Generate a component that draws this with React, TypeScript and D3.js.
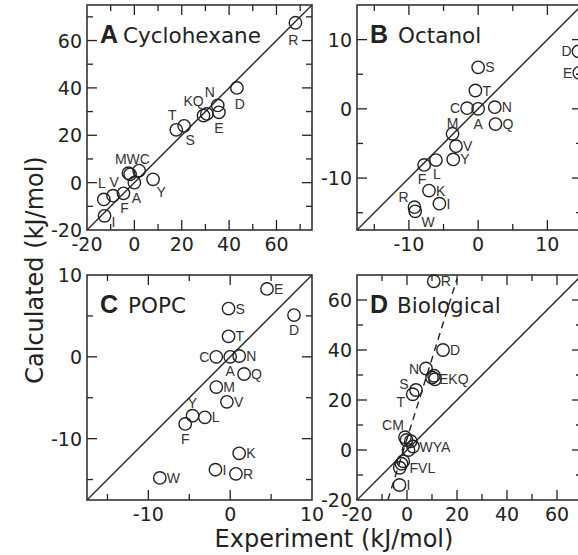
import * as d3 from 'd3'

// panel A / D share the calculated (apolar) values
const aaA = ['R', 'D', 'N', 'E', 'K', 'Q', 'T', 'S', 'C', 'M', 'W', 'A', 'Y', 'L', 'V', 'F', 'I']
const calcApolar = [67.5, 40, 32.6, 29.7, 28.3, 29, 22.3, 24, 5.1, 4, 3.5, 0, 1.4, -7.1, -5.5, -4.5, -14]
const expCyclohexane = [68, 43.3, 35.2, 35.7, 29.2, 30.6, 17.7, 21, 2, -2.5, -1.8, 0, 7.9, -12.9, -9, -4.6, -12.6]
const expBiological = [10.7, 14.4, 7.6, 10.8, 11.2, 10.0, 2.3, 3.6, -0.8, -0.2, 1.5, 0.6, 2.4, -2.9, -2.2, -1.5, -3.0]

const aaB = ['S', 'T', 'C', 'A', 'N', 'Q', 'M', 'V', 'Y', 'L', 'F', 'K', 'I', 'R', 'W', 'D', 'E']
const expOctanol = [0, -0.4, -1.6, 0, 2.4, 2.5, -3.7, -3.2, -3.6, -6.1, -7.8, -7.1, -5.6, -9.2, -9.1, 14.5, 14.6]
const calcOctanol = [6.0, 2.65, 0.1, 0, 0.24, -2.2, -3.6, -5.4, -7.3, -7.4, -8.1, -11.8, -13.7, -14.2, -14.8, 8.3, 5.2]

const aaC = ['E', 'S', 'D', 'T', 'C', 'A', 'N', 'Q', 'M', 'V', 'Y', 'L', 'F', 'K', 'I', 'R', 'W']
const expPopc = [4.5, -0.2, 7.8, -0.2, -1.7, 0, 1.1, 1.7, -1.7, -0.4, -4.6, -3.1, -5.5, 1.1, -1.8, 0.7, -8.6]
const calcPopc = [8.3, 5.9, 5.1, 2.5, 0, 0, 0.1, -2.1, -3.7, -5.5, -7.2, -7.4, -8.2, -11.8, -13.8, -14.3, -14.8]

// dashed fit in panel D
const fitSlope = 3.2
const fitIntercept = 4.5
const fitRange = [-7.66, 20]

const ticksWide = [-20, -10, 0, 10, 20, 30, 40, 50, 60, 70]
const labelsWide = [-20, 0, 20, 40, 60]
const ticksNarrow = [-15, -10, -5, 0, 5, 10, 15]
const labelsNarrow = [-10, 0, 10]

// label layout: [text, anchor residue, dx, dy, text-anchor]
const R = 7
const labA = [
  ['R', 'R', -2, 17, 'middle'], ['D', 'D', 3, 16, 'middle'], ['N', 'N', -8, -13, 'middle'],
  ['KQ', 'K', -10, -15, 'middle'], ['E', 'E', 0, 16, 'middle'], ['T', 'T', -4, -15, 'middle'],
  ['S', 'S', 6, 14, 'middle'], ['MWC', 'M', 4, -14, 'middle'], ['L', 'L', -2, -16, 'middle'],
  ['V', 'V', 1, -14, 'middle'], ['A', 'A', 2, 15, 'middle'], ['F', 'F', 1, 15, 'middle'],
  ['Y', 'Y', 8, 13, 'middle'], ['I', 'I', 9, 6, 'middle'],
]
const labB = [
  ['S', 'S', R, 0, 'start'], ['T', 'T', R, 0, 'start'], ['C', 'C', -R, 0, 'end'],
  ['A', 'A', 0, 15, 'middle'], ['N', 'N', R, 0, 'start'], ['Q', 'Q', R, 0, 'start'],
  ['M', 'M', 0, -11, 'middle'], ['V', 'V', R, 0, 'start'], ['Y', 'Y', R, 0, 'start'],
  ['L', 'L', 1, 14, 'middle'], ['F', 'F', -2, 14, 'middle'], ['K', 'K', R, 0, 'start'],
  ['I', 'I', R, 0, 'start'], ['R', 'R', -11, -10, 'middle'], ['W', 'W', 13, 11, 'middle'],
  ['D', 'D', -R, 0, 'end'], ['E', 'E', -R, 0, 'end'],
]
const labC = [
  ['E', 'E', R, 0, 'start'], ['S', 'S', R, 0, 'start'], ['D', 'D', 0, 15, 'middle'],
  ['T', 'T', R, 0, 'start'], ['C', 'C', -R, 0, 'end'], ['A', 'A', 0, 14, 'middle'],
  ['N', 'N', R, 0, 'start'], ['Q', 'Q', R, 0, 'start'], ['M', 'M', R, 0, 'start'],
  ['V', 'V', R, 0, 'start'], ['Y', 'Y', 0, -13, 'middle'], ['L', 'L', R, 0, 'start'],
  ['F', 'F', 0, 15, 'middle'], ['K', 'K', R, 0, 'start'], ['I', 'I', R, 0, 'start'],
  ['R', 'R', R, 0, 'start'], ['W', 'W', R, 0, 'start'],
]
const labD = [
  ['R', 'R', R, 0, 'start'], ['D', 'D', R, 0, 'start'], ['N', 'N', -R, 0, 'end'],
  ['EKQ', 'K', 4, 0, 'start'], ['S', 'S', -12, -6, 'middle'], ['T', 'T', -12, 8, 'middle'],
  ['CM', 'C', -12, -12, 'middle'], ['WYA', 'A', 11, -3, 'start'], ['FVL', 'V', 8, 4, 'start'],
  ['I', 'I', R, 0, 'start'],
]

const SIZE = 225
const INK = '#222'
const SANS = 'DejaVu Sans, Verdana, sans-serif'

function Panel({ left, top, domain, ticks, tickLabels, aa, exp, calc, labels, letter, name, nameGap, fit }) {
  const x = d3.scaleLinear().domain(domain).range([left, left + SIZE])
  const y = d3.scaleLinear().domain(domain).range([top + SIZE, top])
  const idx = (k) => aa.indexOf(k)
  const inside = ticks.filter((t) => t > domain[0] && t < domain[1])
  const len = (t) => (tickLabels.includes(t) ? 10 : 6)
  const bottom = top + SIZE
  const right = left + SIZE
  const fitLine = fit
    ? d3.line()([fitRange[0], fitRange[1]].map((v) => [x(v), y(fitSlope * v + fitIntercept)]))
    : null
  return (
    <g>
      <clipPath id={`clip-${letter}`}>
        <rect x={left} y={top} width={SIZE} height={SIZE} />
      </clipPath>
      <line x1={x(domain[0])} y1={y(domain[0])} x2={x(domain[1])} y2={y(domain[1])} stroke={INK} strokeWidth={1.3} />
      {fitLine && (
        <path d={fitLine} stroke={INK} strokeWidth={1.4} strokeDasharray="7,5" fill="none" clipPath={`url(#clip-${letter})`} />
      )}
      {inside.map((t) => (
        <g key={t} stroke={INK} strokeWidth={1.3}>
          <line x1={x(t)} x2={x(t)} y1={bottom} y2={bottom - len(t)} />
          <line x1={x(t)} x2={x(t)} y1={top} y2={top + len(t)} />
          <line y1={y(t)} y2={y(t)} x1={left} x2={left + len(t)} />
          <line y1={y(t)} y2={y(t)} x1={right} x2={right - len(t)} />
        </g>
      ))}
      <rect x={left} y={top} width={SIZE} height={SIZE} fill="none" stroke="#333" strokeWidth={1.6} />
      {tickLabels.map((t) => (
        <g key={t} fontFamily={SANS} fontSize={19} fill={INK}>
          <text x={left - 5} y={y(t)} textAnchor="end" dominantBaseline="central">{t}</text>
          <text x={x(t)} y={bottom + 21} textAnchor="middle">{t}</text>
        </g>
      ))}
      {exp.map((v, i) => (
        <circle key={aa[i]} cx={x(v)} cy={y(calc[i])} r={6.2} fill="none" stroke={INK} strokeWidth={1.4} />
      ))}
      {labels.map(([txt, k, dx, dy, anchor]) => (
        <text
          key={txt}
          x={x(exp[idx(k)]) + dx}
          y={y(calc[idx(k)]) + dy}
          textAnchor={anchor}
          dominantBaseline="central"
          fontFamily="Liberation Sans, Arial, sans-serif"
          fontSize={14}
          fill="#333"
        >
          {txt}
        </text>
      ))}
      <text x={left + 13} y={top + 38} fill={INK}>
        <tspan fontFamily="Liberation Sans, Arial, sans-serif" fontWeight="bold" fontSize={25}>{letter}</tspan>
        <tspan dx={nameGap} fontFamily={SANS} fontSize={21.5}>{name}</tspan>
      </text>
    </g>
  )
}

export default function App() {
  return (
    <svg width={578} height={555} style={{ position: 'absolute', left: 0, top: 0, background: '#fff' }}>
      <Panel left={87} top={5} domain={[-20, 75]} ticks={ticksWide} tickLabels={labelsWide}
        aa={aaA} exp={expCyclohexane} calc={calcApolar} labels={labA} letter="A" name="Cyclohexane" nameGap={5} />
      <Panel left={357} top={5} domain={[-17.5, 15]} ticks={ticksNarrow} tickLabels={labelsNarrow}
        aa={aaB} exp={expOctanol} calc={calcOctanol} labels={labB} letter="B" name="Octanol" nameGap={10} />
      <Panel left={87} top={275} domain={[-17.5, 10]} ticks={ticksNarrow} tickLabels={labelsNarrow}
        aa={aaC} exp={expPopc} calc={calcPopc} labels={labC} letter="C" name="POPC" nameGap={10} />
      <Panel left={357} top={275} domain={[-20, 70]} ticks={ticksWide} tickLabels={labelsWide}
        aa={aaA} exp={expBiological} calc={calcApolar} labels={labD} letter="D" name="Biological" nameGap={9} fit />
      <text x={334} y={547} textAnchor="middle" fontFamily={SANS} fontSize={24} fill={INK}>
        Experiment (kJ/mol)
      </text>
      <text transform="translate(43,270) rotate(-90)" textAnchor="middle" fontFamily={SANS} fontSize={24} fill={INK}>
        Calculated (kJ/mol)
      </text>
    </svg>
  )
}
